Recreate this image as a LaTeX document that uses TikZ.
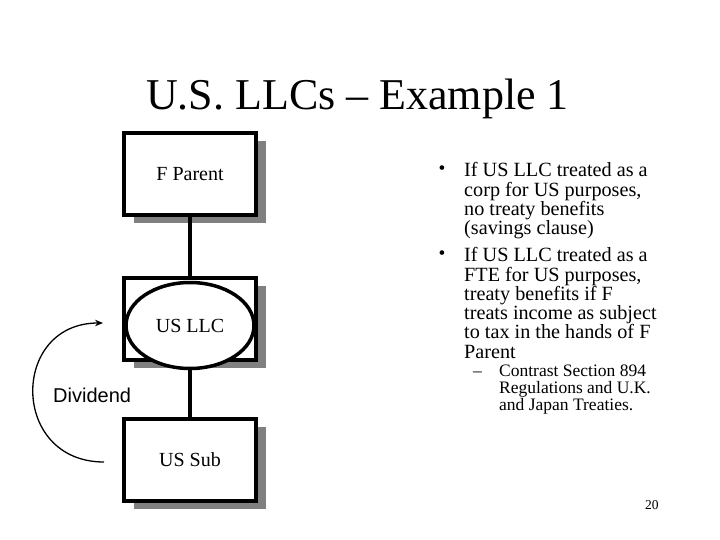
\documentclass[tikz,border=0pt]{standalone}
\usepackage{fontspec}
\setmainfont{Liberation Serif}
\newfontfamily\arialfont{Liberation Sans}
\usetikzlibrary{shapes.geometric,shadows,arrows.meta}
\definecolor{shadowgray}{RGB}{128,128,128}
\begin{document}
\begin{tikzpicture}[x=1pt,y=-1pt,
  entbox/.style={draw, line width=4pt, fill=white, minimum width=132pt, minimum height=82pt,
    inner sep=0pt, font=\fontsize{20}{24}\selectfont,
    drop shadow={shadow xshift=10pt, shadow yshift=-8pt, fill=shadowgray, opacity=1}},
  entoval/.style={ellipse, draw, line width=3.5pt, fill=white, minimum width=128pt,
    minimum height=86pt, inner sep=0pt, font=\fontsize{20}{24}\selectfont},
  conn/.style={line width=4pt},
  bodytext/.style={anchor=base west, inner sep=0pt, align=left, font=\fontsize{20.2}{19.3}\selectfont},
  subtext/.style={anchor=base west, inner sep=0pt, align=left, font=\fontsize{17.5}{16.7}\selectfont},
  bul/.style={inner sep=0pt, font=\fontsize{19.5}{19.3}\selectfont},
  divarrow/.style={line width=1.3pt, -{Stealth[length=8pt,width=6.5pt]}}
]
\useasboundingbox (0,0) rectangle (720,540);

\node[anchor=base, inner sep=0pt, font=\fontsize{44}{54}\selectfont] (title) at (357.5,110) {U.S. LLCs – Example 1};

\node[entbox] (fp) at (190,174) {F Parent};
\node[entbox] (llcbox) at (190,319) {};
\node[entoval] (llc) at (190,325.5) {US LLC};
\node[entbox] (sub) at (190,460) {US Sub};

\draw[conn] (fp.south) -- (llcbox.north);
\draw[conn] (llc.south) -- (sub.north);

\node[anchor=base west, inner sep=0pt, font=\arialfont\fontsize{20}{24}\selectfont] (div) at (53,402) {Dividend};
\coordinate (ds) at (104,462);
\coordinate (de) at (103,323);
\draw[divarrow] (ds) .. controls (10,462) and (10,323) .. (de);

% multi-line nodes: base anchor is the baseline of the last line
\node[bul] (d1) at (442,170.5) {•};
\node[bodytext] (b1) at (464,234.6) {If US LLC treated as a\\corp for US purposes,\\no treaty benefits\\(savings clause)};
\node[bul] (d2) at (442,255.5) {•};
\node[bodytext] (b2) at (464,358.2) {If US LLC treated as a\\FTE for US purposes,\\treaty benefits if F\\treats income as subject\\to tax in the hands of F\\Parent};
\node[subtext] (dash) at (473,376.7) {–};
\node[subtext] (s1) at (499,410.1) {Contrast Section 894\\Regulations and U.K.\\and Japan Treaties.};

\node[anchor=base west, inner sep=0pt, font=\fontsize{13.5}{16}\selectfont] (pg) at (645,509) {20};
\end{tikzpicture}
\end{document}
